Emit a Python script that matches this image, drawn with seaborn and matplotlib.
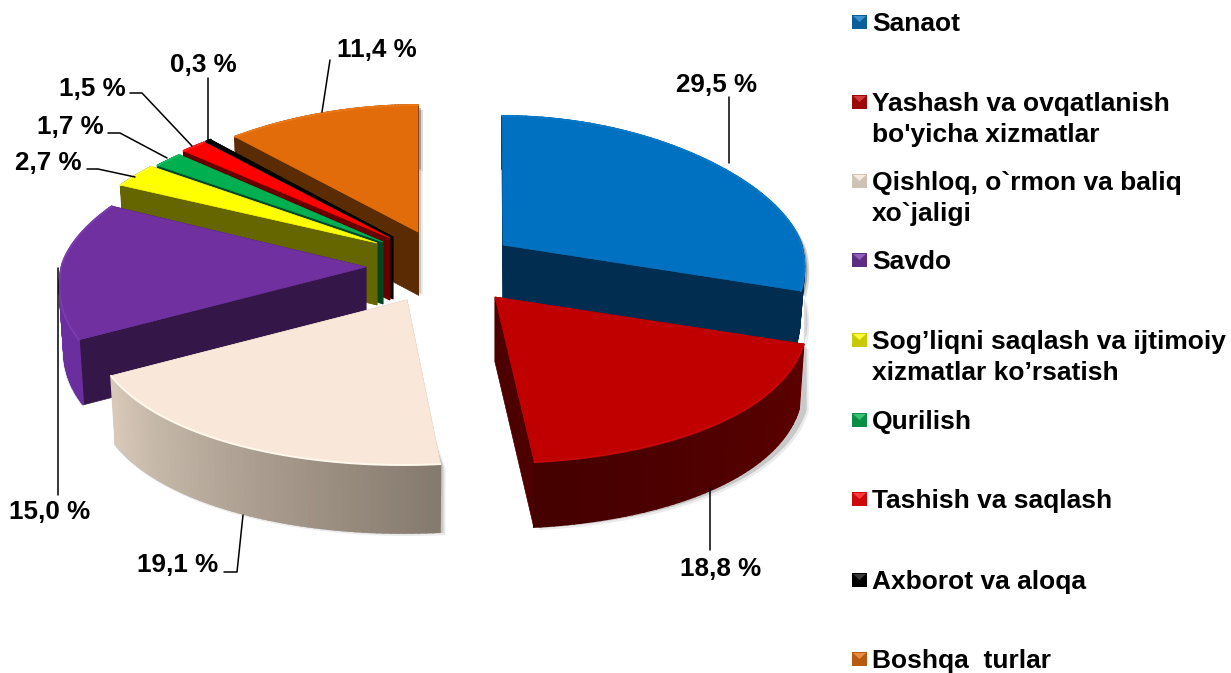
import numpy as np
import matplotlib
matplotlib.use('Agg')
import matplotlib.pyplot as plt
from matplotlib.patches import Polygon, Rectangle
import seaborn as sns

# values
categories = ['Sanaot', "Yashash va ovqatlanish\nbo'yicha xizmatlar", 'Qishloq, o`rmon va baliq\nxo`jaligi',
              'Savdo', 'Sog’liqni saqlash va ijtimoiy\nxizmatlar ko’rsatish', 'Qurilish',
              'Tashish va saqlash', 'Axborot va aloqa', 'Boshqa  turlar']
shares = [29.5, 18.8, 19.1, 15.0, 2.7, 1.7, 1.5, 0.3, 11.4]
share_labels = ['29,5 %', '18,8 %', '19,1 %', '15,0 %', '2,7 %', '1,7 %', '1,5 %', '0,3 %', '11,4 %']

# look of each slice
top_colors = ['#0070C0', '#C00000', '#F9E8DA', '#7030A0', '#FFFF00', '#00B050', '#FF0000', '#000000', '#E36C0A']
wall_colors = ['#002D50', '#4D0000', '#B8A999', '#341648', '#666600', '#004720', '#660000', '#000000', '#5B2B04']
arc_from = ['#002D50', '#5C0000', '#857A6E', '#6B2E9E', '#666600', '#004720', '#660000', '#000000', '#5B2B04']
arc_to = ['#002D50', '#450000', '#D8C9B9', '#6B2E9E', '#666600', '#004720', '#660000', '#000000', '#5B2B04']
rim_colors = ['#0878C8', '#C80808', '#FFF8EC', '#7C3CB0', '#FFFF40', '#10C060', '#FF2020', '#000000', '#EC7818']
tips = [(503, 245), (495, 297), (407, 300), (366, 267), (377, 243), (383, 242), (390, 238), (393, 237), (418, 232)]
centers = [(502, 245), (497, 298), (403, 300), (368, 264), (382, 243), (388, 242), (392, 238), (394, 237), (418, 234)]
scales = [0.96, 0.985, 0.99, 0.98, 1, 1, 1, 1, 1]
depths = [53, 65, 68, 65, 62, 62, 62, 62, 63]
draw_order = [8, 7, 6, 5, 4, 0, 3, 1, 2]

# label position, then leader line points
label_pos = [(716, 83), (721, 567), (178, 563), (50, 510), (48, 161), (70, 125), (92, 87), (203, 63), (377, 48)]
leaders = [[(729, 97), (729, 163)],
           [(710, 550), (710, 488)],
           [(224, 572), (237, 572), (243, 515)],
           [(58, 495), (58, 268)],
           [(87, 169), (98, 169), (135, 177)],
           [(108, 133), (120, 133), (167, 158)],
           [(130, 93), (142, 93), (192, 146)],
           [(208, 78), (208, 140)],
           [(330, 60), (322, 112)]]
legend_y = [22, 102, 181, 260, 340, 420, 499, 580, 659]


def project(t, center, scale):
    # squashed circle, front half is nearer so it is drawn bigger
    s = np.sin(t)
    ry = np.where(s > 0, 129, 165)
    rx = 312 * scale * (1 - 0.14 * s)
    return np.column_stack([center[0] + rx * np.cos(t), center[1] - ry * s])


def drop(p, center, depth):
    # bottom edge of a wall, pulled in a little
    p = np.asarray(p, dtype=float)
    return p + [(center[0] - p[..., 0].mean()) * 0.015, depth]


sns.set_theme(style='white')
plt.rcParams['font.family'] = ['Liberation Sans', 'DejaVu Sans']

fig = plt.figure(figsize=(12.31, 6.73), dpi=100)
ax = fig.add_axes([0, 0, 1, 1])
ax.set_xlim(0, 1231)
ax.set_ylim(673, 0)
ax.axis('off')

# angles run clockwise from 12 o'clock
edges = np.radians(90 - np.concatenate([[0], np.cumsum(shares)]) * 3.6)

# soft shadows first
for i in range(len(shares)):
    arc = project(np.linspace(edges[i], edges[i + 1], 60), centers[i], scales[i])
    tip = np.array(tips[i])
    for off, alpha in [(5, 0.08), (3, 0.14)]:
        low = arc + [off, depths[i] + off - 2]
        ax.add_patch(Polygon(np.vstack([arc + [off, off], low[::-1]]), fc='black', ec='none', alpha=alpha, zorder=1))
        ax.add_patch(Polygon(np.vstack([[tip + [off, depths[i]]], arc + [off, off]]), fc='black', ec='none', alpha=alpha, zorder=1))

z = 2
for i in draw_order:
    tip = np.array(tips[i], dtype=float)
    dep = depths[i]
    arc = project(np.linspace(edges[i], edges[i + 1], 60), centers[i], scales[i])

    # flat cut walls
    for end in (arc[0], arc[-1]):
        ax.add_patch(Polygon([tip, end, drop(end, centers[i], dep), tip + [0, dep]], fc=wall_colors[i],
                             ec=wall_colors[i], lw=0.5, zorder=z))

    # curved outer wall, shaded along the arc
    strip_colors = sns.blend_palette([arc_from[i], arc_to[i]], len(arc) - 1)
    for k in range(len(arc) - 1):
        ax.add_patch(Polygon([arc[k], arc[k + 1], drop(arc[k + 1], centers[i], dep), drop(arc[k], centers[i], dep)],
                             fc=strip_colors[k], ec=strip_colors[k], lw=1.2, zorder=z))

    ax.add_patch(Polygon(np.vstack([[tip], arc]), fc=top_colors[i], ec=top_colors[i], lw=0.5, zorder=z + 0.1))
    ax.plot(arc[:, 0], arc[:, 1], color=rim_colors[i], lw=1.4, zorder=z + 0.2)
    z += 1

# leader lines and labels
for pts, lab, pos in zip(leaders, share_labels, label_pos):
    pts = np.array(pts)
    ax.plot(pts[:, 0], pts[:, 1], color='black', lw=1.1, zorder=30)
    ax.text(pos[0], pos[1] + 9, lab, ha='center', va='baseline', fontsize=18.7, fontweight='bold', color='black', zorder=31)

# legend, spacing in the original is uneven so it is placed by hand
for name, col, y in zip(categories, top_colors, legend_y):
    base = sns.dark_palette(col, 5)[3] if col != '#000000' else '#000000'
    if name.startswith('Qishloq'):
        base = '#CFC3B6'
    ax.add_patch(Rectangle((852, y - 7), 15, 14, fc=base, ec='none', zorder=30))
    ax.add_patch(Polygon([(853, y - 6), (866, y - 6), (859.5, y)], fc=sns.light_palette(col, 5)[3], ec='none', zorder=31))
    # baseline of a text is its last line
    base_y = y + 9 + 31 * name.count('\n')
    ax.text(872, base_y, name, ha='left', va='baseline', fontsize=19, fontweight='bold', color='black',
            linespacing=1.38, zorder=31)

fig.savefig('out.png', dpi=100)
